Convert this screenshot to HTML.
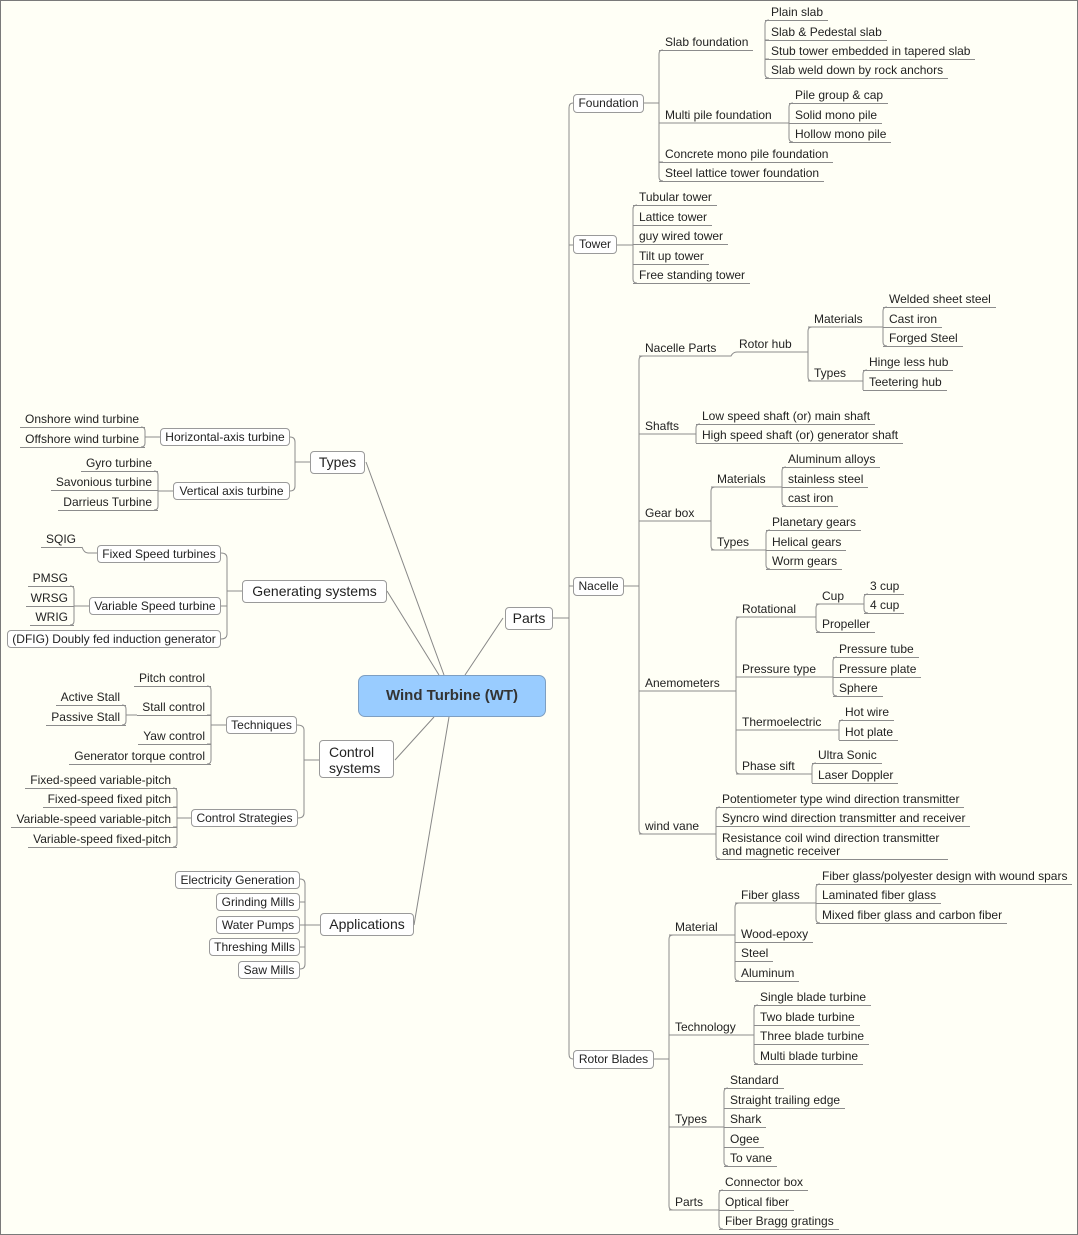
<!DOCTYPE html>
<html><head><meta charset="utf-8"><style>
html,body{margin:0;padding:0}
body{width:1078px;height:1235px;position:relative;background:#fffff6;overflow:hidden;font-family:"Liberation Sans",Arial,sans-serif;color:#222}
#frame{position:absolute;left:0;top:0;width:1076px;height:1233px;border:1px solid #7a7a7a}
svg{position:absolute;left:0;top:0}
.l{position:absolute;font-size:12px;line-height:15px;height:15px;border-bottom:1px solid #8c8c8c;padding:0 5px 0 6px;white-space:nowrap}
.r{position:absolute;font-size:12px;line-height:15px;height:15px;border-bottom:1px solid #8c8c8c;padding:0 6px 0 5px;white-space:nowrap;text-align:right}
.b{position:absolute;box-sizing:border-box;border:1px solid #9a9a9a;border-radius:4px;background:#fff;font-size:12px;text-align:center;white-space:nowrap}
.b2{font-size:14px}
</style></head><body>
<div id="frame"></div>
<svg width="1078" height="1235" fill="none" stroke="#8c8c8c" stroke-width="1">
<!-- center spokes -->
<path d="M366 462 L444 675 M387 591 L439 675 M465 675 L503 618 M395 760 L434 717 M414 925 L449 717" stroke="#888"/>
<!-- Parts -->
<path d="M553 618 H569 M573 103 Q569 103 569 108 V1054 Q569 1059 573 1059 M569 245 H573 M569 586 H573"/>
<!-- Foundation -->
<path d="M644 103 H659 M659 54 Q659 50 663 50 M659 54 V177 Q659 181 663 181 M659 123 H663 M659 162 H663"/>
<path d="M765 50 V74 Q765 78 769 78 M765 24 Q765 20 769 20 M765 24 V50 M765 40 H769 M765 59 H769"/>
<path d="M659 123 H789 M789 107 Q789 103 793 103 M789 107 V138 Q789 142 793 142"/>
<!-- Tower -->
<path d="M617 245 H633 M633 209 Q633 205 637 205 M633 209 V279 Q633 283 637 283"/>
<!-- Nacelle -->
<path d="M624 586 H639 M639 360 Q639 356 643 356 M639 360 V830 Q639 834 643 834"/>
<path d="M639 356 H731 Q733 352 737 352 H808 M808 331 Q808 327 812 327 M808 331 V377 Q808 381 812 381"/>
<path d="M808 327 H883 M883 311 Q883 307 887 307 M883 311 V342 Q883 346 887 346"/>
<path d="M808 381 H863 M863 374 Q863 370 867 370 M863 374 V390"/>
<path d="M639 434 H696 M696 428 Q696 424 700 424 M696 428 V443"/>
<path d="M639 521 H711 M711 491 Q711 487 715 487 M711 491 V546 Q711 550 715 550"/>
<path d="M711 487 H782 M782 471 Q782 467 786 467 M782 471 V502 Q782 506 786 506"/>
<path d="M711 550 H766 M766 534 Q766 530 770 530 M766 534 V565 Q766 569 770 569"/>
<path d="M639 691 H736 M736 621 Q736 617 740 617 M736 621 V770 Q736 774 740 774 M736 677 H740 M736 730 H740"/>
<path d="M736 617 H816 M816 608 Q816 604 820 604 M816 608 V628 Q816 632 820 632"/>
<path d="M816 604 H864 M864 598 Q864 594 868 594 M864 598 V609 Q864 613 868 613"/>
<path d="M736 677 H833 M833 661 Q833 657 837 657 M833 661 V692 Q833 696 837 696"/>
<path d="M736 730 H839 M839 724 Q839 720 843 720 M839 724 V740"/>
<path d="M736 774 H812 M812 767 Q812 763 816 763 M812 767 V783"/>
<path d="M639 834 H716 M716 811 Q716 807 720 807 M716 811 V855 Q716 859 720 859"/>
<!-- Rotor blades -->
<path d="M654 1059 H669 M669 939 Q669 935 673 935 M669 939 V1206 Q669 1210 673 1210 M669 1035 H673 M669 1127 H673"/>
<path d="M669 935 H735 M735 907 Q735 903 739 903 M735 907 V977 Q735 981 739 981"/>
<path d="M735 903 H816 M816 888 Q816 884 820 884 M816 888 V919 Q816 923 820 923"/>
<path d="M669 1035 H754 M754 1009 Q754 1005 758 1005 M754 1009 V1060 Q754 1064 758 1064"/>
<path d="M669 1127 H724 M724 1092 Q724 1088 728 1088 M724 1092 V1162 Q724 1166 728 1166"/>
<path d="M669 1210 H719 M719 1194 Q719 1190 723 1190 M719 1194 V1225 Q719 1229 723 1229"/>
<!-- Left: Types -->
<path d="M310 462 H295 M290 437 Q295 437 295 442 V486 Q295 491 290 491"/>
<path d="M160 437 H145 M141 427 Q145 427 145 431 V443 Q145 447 141 447"/>
<path d="M173 491 H158 M154 471 Q158 471 158 475 V506 Q158 510 154 510"/>
<!-- Generating -->
<path d="M242 591 H227 M221 553 Q227 553 227 558 V634 Q227 639 221 639 M221 606 H227"/>
<path d="M97 553 H88 Q84 553 82 547"/>
<path d="M89 606 H74 M70 586 Q74 586 74 590 V621 Q74 625 70 625"/>
<!-- Control -->
<path d="M319 760 H304 M297 725 Q304 725 304 730 V813 Q304 818 298 818"/>
<path d="M226 725 H211 M207 686 Q211 686 211 690 V760 Q211 764 207 764 M211 715 H207 M211 744 H207"/>
<path d="M137 715 H126 M122 705 Q126 705 126 709 V721 Q126 725 122 725"/>
<path d="M191 818 H177 M173 788 Q177 788 177 792 V843 Q177 847 173 847 M177 807 H173 M177 827 H173"/>
<!-- Applications -->
<path d="M320 925 H305 M300 879 Q305 879 305 884 V964 Q305 969 300 969 M300 902 H305 M300 925 H305 M300 947 H305"/>
</svg>

<!-- central -->
<div class="b" style="left:358px;top:675px;width:188px;height:42px;background:#99ccff;border-color:#7e9fc2;border-radius:7px;font-size:15px;font-weight:bold;line-height:40px;color:#333">Wind Turbine (WT)</div>

<div class="b b2" style="left:505px;top:607px;width:48px;height:23px;line-height:21px">Parts</div>
<div class="b b2" style="left:310px;top:451px;width:55px;height:23px;line-height:21px">Types</div>
<div class="b b2" style="left:242px;top:580px;width:145px;height:23px;line-height:21px">Generating systems</div>
<div class="b b2" style="left:319px;top:740px;width:75px;height:38px;line-height:16px;text-align:left;padding:3px 0 0 9px">Control<br>systems</div>
<div class="b b2" style="left:320px;top:913px;width:94px;height:23px;line-height:21px">Applications</div>

<div class="b" style="left:573px;top:94px;width:71px;height:19px;line-height:17px">Foundation</div>
<div class="b" style="left:573px;top:235px;width:44px;height:19px;line-height:17px">Tower</div>
<div class="b" style="left:573px;top:577px;width:51px;height:19px;line-height:17px">Nacelle</div>
<div class="b" style="left:573px;top:1050px;width:81px;height:19px;line-height:17px">Rotor Blades</div>

<!-- Foundation -->
<div class="l" style="left:659px;top:35px">Slab foundation</div>
<div class="l" style="left:765px;top:5px">Plain slab</div>
<div class="l" style="left:765px;top:25px">Slab &amp; Pedestal slab</div>
<div class="l" style="left:765px;top:44px">Stub tower embedded in tapered slab</div>
<div class="l" style="left:765px;top:63px">Slab weld down by rock anchors</div>
<div class="l" style="left:659px;top:108px;border:0">Multi pile foundation</div>
<div class="l" style="left:789px;top:88px">Pile group &amp; cap</div>
<div class="l" style="left:789px;top:108px">Solid mono pile</div>
<div class="l" style="left:789px;top:127px">Hollow mono pile</div>
<div class="l" style="left:659px;top:147px">Concrete mono pile foundation</div>
<div class="l" style="left:659px;top:166px">Steel lattice tower foundation</div>
<!-- Tower -->
<div class="l" style="left:633px;top:190px">Tubular tower</div>
<div class="l" style="left:633px;top:210px">Lattice tower</div>
<div class="l" style="left:633px;top:229px">guy wired tower</div>
<div class="l" style="left:633px;top:249px">Tilt up tower</div>
<div class="l" style="left:633px;top:268px">Free standing tower</div>
<!-- Nacelle -->
<div class="l" style="left:639px;top:341px;border:0">Nacelle Parts</div>
<div class="l" style="left:733px;top:337px;border:0">Rotor hub</div>
<div class="l" style="left:808px;top:312px;border:0">Materials</div>
<div class="l" style="left:883px;top:292px">Welded sheet steel</div>
<div class="l" style="left:883px;top:312px">Cast iron</div>
<div class="l" style="left:883px;top:331px">Forged Steel</div>
<div class="l" style="left:808px;top:366px;border:0">Types</div>
<div class="l" style="left:863px;top:355px">Hinge less hub</div>
<div class="l" style="left:863px;top:375px">Teetering hub</div>
<div class="l" style="left:639px;top:419px;border:0">Shafts</div>
<div class="l" style="left:696px;top:409px">Low speed shaft (or) main shaft</div>
<div class="l" style="left:696px;top:428px">High speed shaft (or) generator shaft</div>
<div class="l" style="left:639px;top:506px;border:0">Gear box</div>
<div class="l" style="left:711px;top:472px;border:0">Materials</div>
<div class="l" style="left:782px;top:452px">Aluminum alloys</div>
<div class="l" style="left:782px;top:472px">stainless steel</div>
<div class="l" style="left:782px;top:491px">cast iron</div>
<div class="l" style="left:711px;top:535px;border:0">Types</div>
<div class="l" style="left:766px;top:515px">Planetary gears</div>
<div class="l" style="left:766px;top:535px">Helical gears</div>
<div class="l" style="left:766px;top:554px">Worm gears</div>
<div class="l" style="left:639px;top:676px;border:0">Anemometers</div>
<div class="l" style="left:736px;top:602px;border:0">Rotational</div>
<div class="l" style="left:816px;top:589px;border:0">Cup</div>
<div class="l" style="left:864px;top:579px">3 cup</div>
<div class="l" style="left:864px;top:598px">4 cup</div>
<div class="l" style="left:816px;top:617px">Propeller</div>
<div class="l" style="left:736px;top:662px;border:0">Pressure type</div>
<div class="l" style="left:833px;top:642px">Pressure tube</div>
<div class="l" style="left:833px;top:662px">Pressure plate</div>
<div class="l" style="left:833px;top:681px">Sphere</div>
<div class="l" style="left:736px;top:715px;border:0">Thermoelectric</div>
<div class="l" style="left:839px;top:705px">Hot wire</div>
<div class="l" style="left:839px;top:725px">Hot plate</div>
<div class="l" style="left:736px;top:759px;border:0">Phase sift</div>
<div class="l" style="left:812px;top:748px">Ultra Sonic</div>
<div class="l" style="left:812px;top:768px">Laser Doppler</div>
<div class="l" style="left:639px;top:819px;border:0">wind vane</div>
<div class="l" style="left:716px;top:792px">Potentiometer type wind direction transmitter</div>
<div class="l" style="left:716px;top:811px">Syncro wind direction transmitter and receiver</div>
<div class="l" style="left:716px;top:832px;height:27px;line-height:13px;width:221px">Resistance coil wind direction transmitter<br>and magnetic receiver</div>
<!-- Rotor blades -->
<div class="l" style="left:669px;top:920px;border:0">Material</div>
<div class="l" style="left:735px;top:888px;border:0">Fiber glass</div>
<div class="l" style="left:816px;top:869px">Fiber glass/polyester design with wound spars</div>
<div class="l" style="left:816px;top:888px">Laminated fiber glass</div>
<div class="l" style="left:816px;top:908px">Mixed fiber glass and carbon fiber</div>
<div class="l" style="left:735px;top:927px">Wood-epoxy</div>
<div class="l" style="left:735px;top:946px">Steel</div>
<div class="l" style="left:735px;top:966px">Aluminum</div>
<div class="l" style="left:669px;top:1020px;border:0">Technology</div>
<div class="l" style="left:754px;top:990px">Single blade turbine</div>
<div class="l" style="left:754px;top:1010px">Two blade turbine</div>
<div class="l" style="left:754px;top:1029px">Three blade turbine</div>
<div class="l" style="left:754px;top:1049px">Multi blade turbine</div>
<div class="l" style="left:669px;top:1112px;border:0">Types</div>
<div class="l" style="left:724px;top:1073px">Standard</div>
<div class="l" style="left:724px;top:1093px">Straight trailing edge</div>
<div class="l" style="left:724px;top:1112px">Shark</div>
<div class="l" style="left:724px;top:1132px">Ogee</div>
<div class="l" style="left:724px;top:1151px">To vane</div>
<div class="l" style="left:669px;top:1195px;border:0">Parts</div>
<div class="l" style="left:719px;top:1175px">Connector box</div>
<div class="l" style="left:719px;top:1195px">Optical fiber</div>
<div class="l" style="left:719px;top:1214px">Fiber Bragg gratings</div>

<!-- Left: Types -->
<div class="b" style="left:160px;top:428px;width:130px;height:18px;line-height:16px">Horizontal-axis turbine</div>
<div class="b" style="left:173px;top:482px;width:117px;height:18px;line-height:16px">Vertical axis turbine</div>
<div class="r" style="right:933px;top:412px;width:114px">Onshore wind turbine</div>
<div class="r" style="right:933px;top:432px;width:114px">Offshore wind turbine</div>
<div class="r" style="right:920px;top:456px">Gyro turbine</div>
<div class="r" style="right:920px;top:475px">Savonious turbine</div>
<div class="r" style="right:920px;top:495px">Darrieus Turbine</div>
<!-- Generating -->
<div class="b" style="left:97px;top:545px;width:124px;height:18px;line-height:16px">Fixed Speed turbines</div>
<div class="b" style="left:89px;top:597px;width:132px;height:18px;line-height:16px">Variable Speed turbine</div>
<div class="b" style="left:7px;top:630px;width:214px;height:18px;line-height:16px">(DFIG) Doubly fed induction generator</div>
<div class="r" style="right:996px;top:532px">SQIG</div>
<div class="r" style="right:1004px;top:571px">PMSG</div>
<div class="r" style="right:1004px;top:591px">WRSG</div>
<div class="r" style="right:1004px;top:610px">WRIG</div>
<!-- Control -->
<div class="b" style="left:226px;top:716px;width:71px;height:18px;line-height:16px">Techniques</div>
<div class="b" style="left:191px;top:809px;width:107px;height:18px;line-height:16px">Control Strategies</div>
<div class="r" style="right:867px;top:671px">Pitch control</div>
<div class="r" style="right:867px;top:700px">Stall control</div>
<div class="r" style="right:867px;top:729px">Yaw control</div>
<div class="r" style="right:867px;top:749px">Generator torque control</div>
<div class="r" style="right:952px;top:690px">Active Stall</div>
<div class="r" style="right:952px;top:710px">Passive Stall</div>
<div class="r" style="right:901px;top:773px">Fixed-speed variable-pitch</div>
<div class="r" style="right:901px;top:792px">Fixed-speed fixed pitch</div>
<div class="r" style="right:901px;top:812px">Variable-speed variable-pitch</div>
<div class="r" style="right:901px;top:832px">Variable-speed fixed-pitch</div>
<!-- Applications -->
<div class="b" style="left:175px;top:871px;width:125px;height:18px;line-height:16px">Electricity Generation</div>
<div class="b" style="left:216px;top:893px;width:84px;height:18px;line-height:16px">Grinding Mills</div>
<div class="b" style="left:216px;top:916px;width:84px;height:18px;line-height:16px">Water Pumps</div>
<div class="b" style="left:209px;top:938px;width:91px;height:18px;line-height:16px">Threshing Mills</div>
<div class="b" style="left:238px;top:961px;width:62px;height:18px;line-height:16px">Saw Mills</div>
</body></html>
